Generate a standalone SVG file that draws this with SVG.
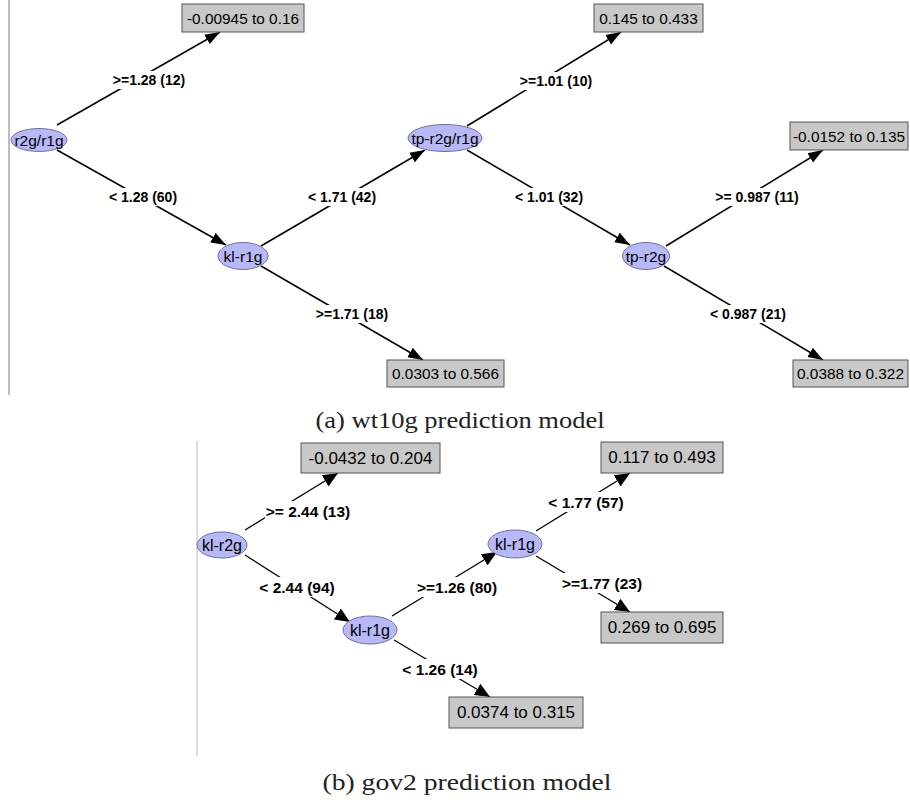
<svg xmlns="http://www.w3.org/2000/svg" width="910" height="800" viewBox="0 0 910 800">
<style>
.bg{fill:#ffffff}
.edge{stroke:#000;stroke-width:1.5;fill:none;marker-end:url(#arr)}
.edge2{stroke:#000;stroke-width:1.3;fill:none;marker-end:url(#arr2)}
.ell{fill:#b8b8f6;stroke:#7070a0;stroke-width:1}
.box{fill:#c8c8c8;stroke:#555;stroke-width:1}
.lb{fill:#fff}
.nt{font-family:"Liberation Sans",Arial,sans-serif;font-size:15.5px;fill:#000;text-anchor:middle;dominant-baseline:central}
.bt{font-family:"Liberation Sans",Arial,sans-serif;font-size:15.4px;fill:#000;text-anchor:middle;dominant-baseline:central}
.lt{font-family:"Liberation Sans",Arial,sans-serif;font-size:14px;font-weight:bold;fill:#000;text-anchor:middle;dominant-baseline:central}
.nt2{font-family:"Liberation Sans",Arial,sans-serif;font-size:16px;fill:#000;text-anchor:middle;dominant-baseline:central}
.bt2{font-family:"Liberation Sans",Arial,sans-serif;font-size:17px;fill:#000;text-anchor:middle;dominant-baseline:central}
.lt2{font-family:"Liberation Sans",Arial,sans-serif;font-size:15.5px;font-weight:bold;fill:#000;text-anchor:middle;dominant-baseline:central}
.cap{font-family:"Liberation Serif","Times New Roman",serif;font-size:24px;fill:#222;text-anchor:middle}
</style>
<defs>
<marker id="arr" markerUnits="userSpaceOnUse" markerWidth="16" markerHeight="12" refX="15" refY="6" orient="auto"><path d="M0,0.5 L15,6 L0,11.5 z" fill="#000"/></marker>
<marker id="arr2" markerUnits="userSpaceOnUse" markerWidth="16" markerHeight="14" refX="15" refY="7" orient="auto"><path d="M0,0.5 L15,7 L0,13.5 z" fill="#000"/></marker>
</defs>
<rect class="bg" x="0" y="0" width="910" height="800"/>
<line x1="9" y1="0" x2="9" y2="395" stroke="#a0a8b8" stroke-width="1.5"/>
<line x1="197" y1="441" x2="197" y2="756" stroke="#c8c8c8" stroke-width="1.2"/>

<g id="connectors">
<line class="edge" x1="57" y1="125" x2="220" y2="32"/>
<line class="edge" x1="57" y1="150" x2="226" y2="245"/>
<line class="edge" x1="261" y1="246" x2="425" y2="150"/>
<line class="edge" x1="261" y1="266" x2="423" y2="360"/>
<line class="edge" x1="467" y1="126" x2="621" y2="32"/>
<line class="edge" x1="467" y1="150" x2="630" y2="245"/>
<line class="edge" x1="666" y1="246" x2="823" y2="150"/>
<line class="edge" x1="664" y1="266" x2="823" y2="360"/>

<line class="edge2" x1="245" y1="530" x2="338" y2="473"/>
<line class="edge2" x1="245" y1="555" x2="350" y2="622"/>
<line class="edge2" x1="392" y1="616" x2="497" y2="552"/>
<line class="edge2" x1="394" y1="640" x2="490" y2="697"/>
<line class="edge2" x1="536" y1="531" x2="630" y2="473"/>
<line class="edge2" x1="536" y1="556" x2="630" y2="612"/>

<rect class="lb" x="110" y="71" width="79" height="18"/>
<rect class="lb" x="106" y="188" width="74" height="18"/>
<rect class="lb" x="305" y="188" width="74" height="18"/>
<rect class="lb" x="313" y="305" width="79" height="18"/>
<rect class="lb" x="517" y="72" width="79" height="18"/>
<rect class="lb" x="512" y="188" width="74" height="18"/>
<rect class="lb" x="713" y="188" width="88" height="18"/>
<rect class="lb" x="707" y="305" width="82" height="18"/>
<text class="lt" x="149" y="80">&gt;=1.28 (12)</text>
<text class="lt" x="143" y="197">&lt; 1.28 (60)</text>
<text class="lt" x="342" y="197">&lt; 1.71 (42)</text>
<text class="lt" x="352" y="314">&gt;=1.71 (18)</text>
<text class="lt" x="556" y="81">&gt;=1.01 (10)</text>
<text class="lt" x="549" y="197">&lt; 1.01 (32)</text>
<text class="lt" x="757" y="197">&gt;= 0.987 (11)</text>
<text class="lt" x="748" y="314">&lt; 0.987 (21)</text>

<rect class="lb" x="265" y="501" width="86" height="20"/>
<rect class="lb" x="255" y="577" width="84" height="20"/>
<rect class="lb" x="415" y="577" width="84" height="20"/>
<rect class="lb" x="398" y="659" width="84" height="20"/>
<rect class="lb" x="544" y="492" width="84" height="20"/>
<rect class="lb" x="560" y="573" width="85" height="20"/>
<text class="lt2" x="308" y="511">&gt;= 2.44 (13)</text>
<text class="lt2" x="297" y="587">&lt; 2.44 (94)</text>
<text class="lt2" x="457" y="587">&gt;=1.26 (80)</text>
<text class="lt2" x="440" y="669">&lt; 1.26 (14)</text>
<text class="lt2" x="586" y="502">&lt; 1.77 (57)</text>
<text class="lt2" x="602" y="583">&gt;=1.77 (23)</text>
</g>

<g id="n_r2g_r1g"><ellipse class="ell" cx="39" cy="140" rx="28" ry="11.5"/><text class="nt" x="39" y="140">r2g/r1g</text></g>
<g id="n_klr1g_a"><ellipse class="ell" cx="243" cy="256" rx="25" ry="13.5"/><text class="nt" x="243" y="256">kl-r1g</text></g>
<g id="n_tpr2gr1g"><ellipse class="ell" cx="445" cy="138" rx="37" ry="13.5"/><text class="nt" x="445" y="138">tp-r2g/r1g</text></g>
<g id="n_tpr2g"><ellipse class="ell" cx="646" cy="256" rx="23.5" ry="13.5"/><text class="nt" x="646" y="256">tp-r2g</text></g>
<g id="leaf_a1"><rect class="box" x="182" y="4" width="122" height="28"/><text class="bt" x="243" y="18">-0.00945 to 0.16</text></g>
<g id="leaf_a2"><rect class="box" x="594" y="4" width="109" height="28"/><text class="bt" x="648.5" y="18">0.145 to 0.433</text></g>
<g id="leaf_a3"><rect class="box" x="790" y="122" width="118" height="28"/><text class="bt" x="849" y="136">-0.0152 to 0.135</text></g>
<g id="leaf_a4"><rect class="box" x="387" y="360" width="117" height="27"/><text class="bt" x="445.5" y="373.5">0.0303 to 0.566</text></g>
<g id="leaf_a5"><rect class="box" x="793" y="360" width="115" height="27"/><text class="bt" x="850.5" y="373.5">0.0388 to 0.322</text></g>

<g id="n_klr2g"><ellipse class="ell" cx="222" cy="545" rx="25" ry="13"/><text class="nt2" x="222" y="545">kl-r2g</text></g>
<g id="n_klr1g_b1"><ellipse class="ell" cx="370" cy="630" rx="27" ry="14"/><text class="nt2" x="370" y="630">kl-r1g</text></g>
<g id="n_klr1g_b2"><ellipse class="ell" cx="515" cy="544" rx="27" ry="14"/><text class="nt2" x="515" y="544">kl-r1g</text></g>
<g id="leaf_b1"><rect class="box" x="301" y="443" width="139" height="30"/><text class="bt2" x="370.5" y="458">-0.0432 to 0.204</text></g>
<g id="leaf_b2"><rect class="box" x="601" y="442" width="122" height="31"/><text class="bt2" x="662" y="457.5">0.117 to 0.493</text></g>
<g id="leaf_b3"><rect class="box" x="601" y="612" width="122" height="31"/><text class="bt2" x="662" y="627.5">0.269 to 0.695</text></g>
<g id="leaf_b4"><rect class="box" x="449" y="697" width="134" height="31"/><text class="bt2" x="516" y="712.5">0.0374 to 0.315</text></g>

<text class="cap" x="460" y="428" textLength="289" lengthAdjust="spacingAndGlyphs">(a) wt10g prediction model</text>
<text class="cap" x="467" y="790" textLength="289" lengthAdjust="spacingAndGlyphs">(b) gov2 prediction model</text>
</svg>
